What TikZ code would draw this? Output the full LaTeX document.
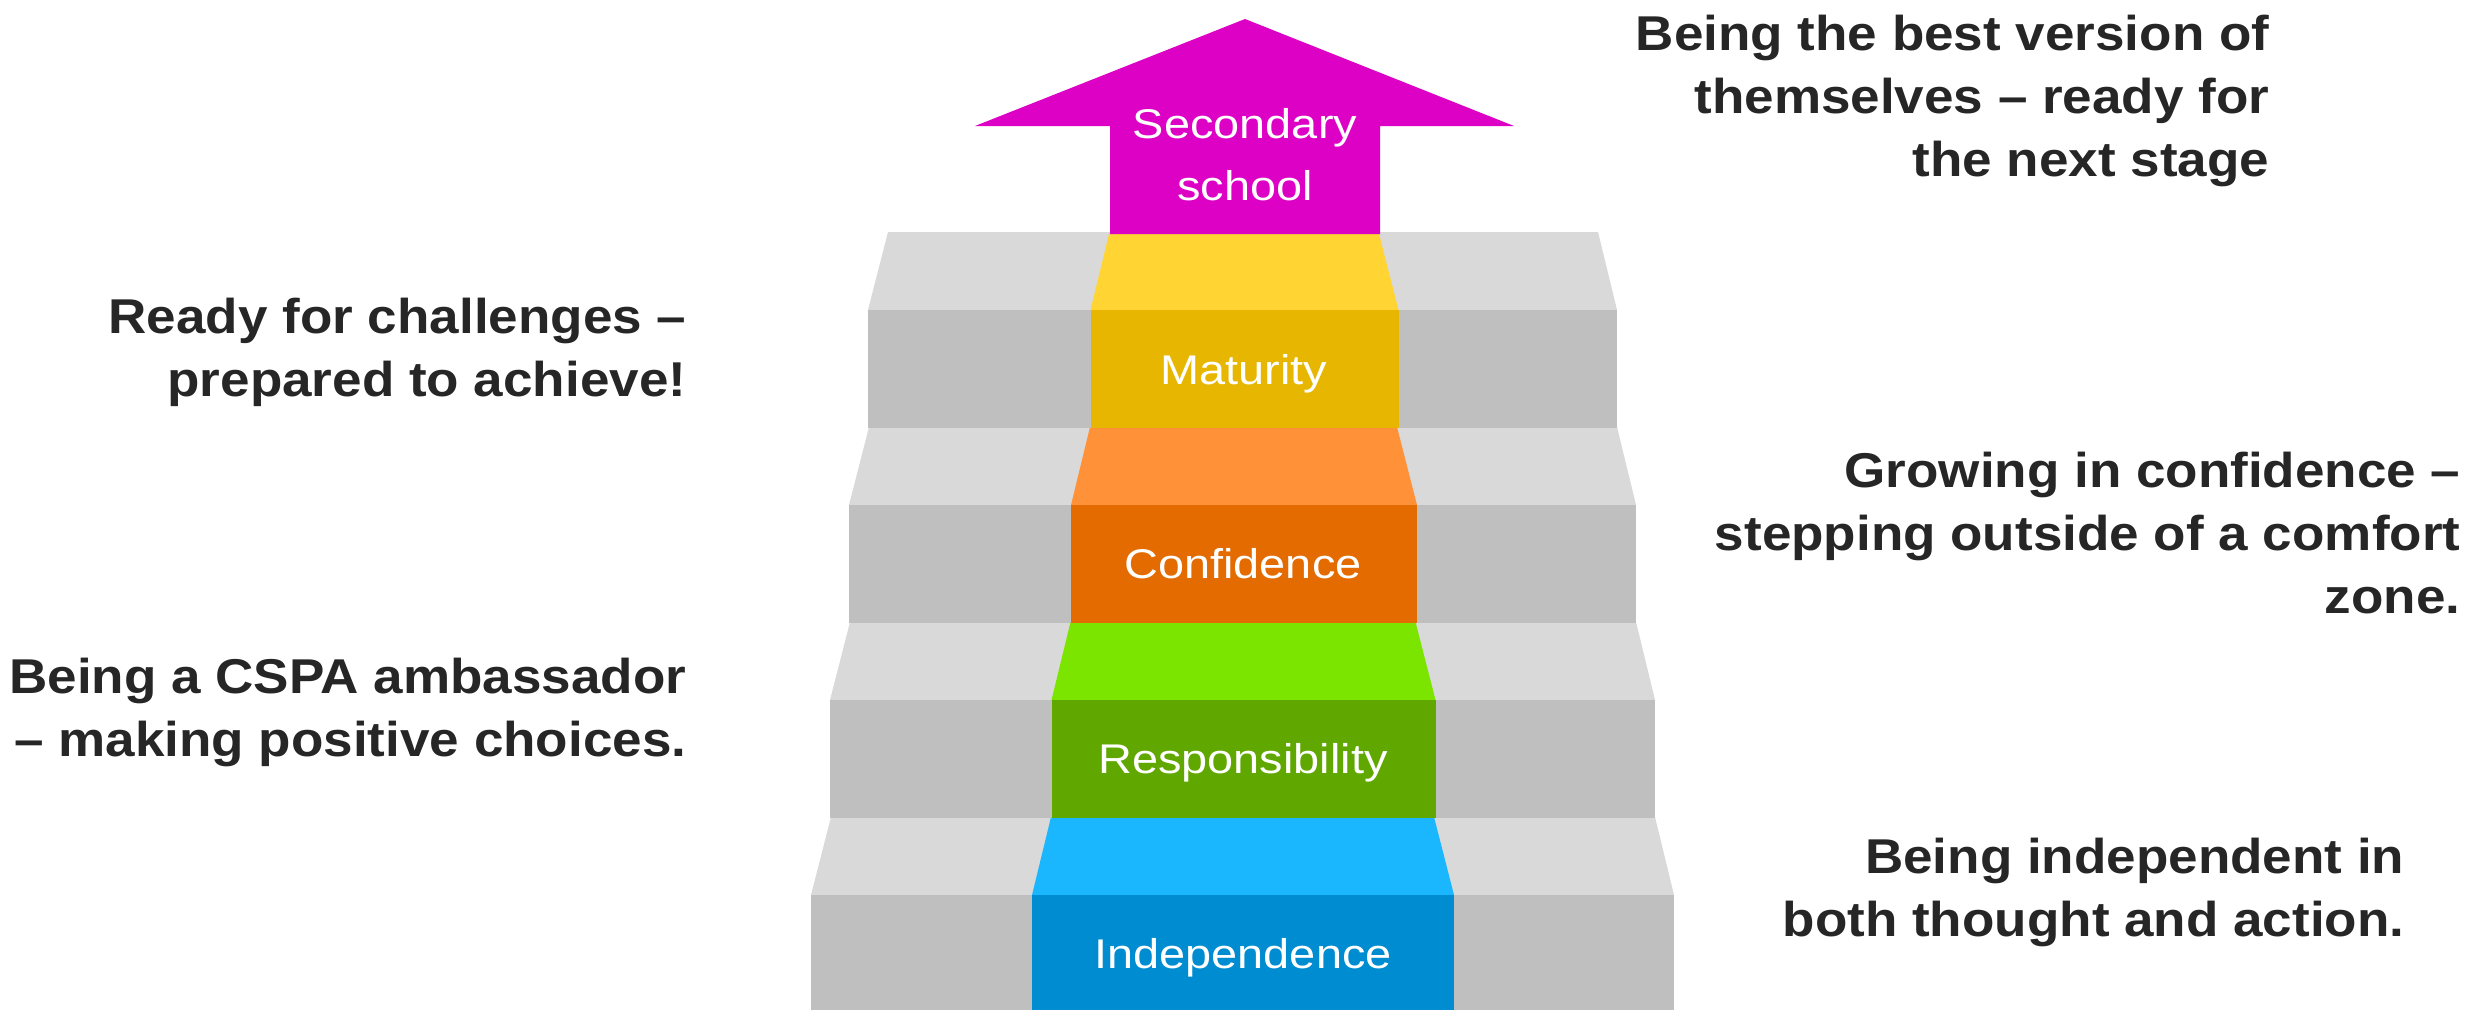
\documentclass[tikz,border=0pt]{standalone}
\usepackage{fontspec}
\newfontfamily\captxt{Liberation Sans}[FakeStretch=1.085]
\newfontfamily\stepfont{Liberation Sans}[FakeStretch=1.13]
\definecolor{txtgray}{HTML}{262626}
\definecolor{treadgray}{HTML}{D9D9D9}
\definecolor{risergray}{HTML}{BFBFBF}
\definecolor{magentaA}{HTML}{DD00C5}
\definecolor{yellowT}{HTML}{FFD433}
\definecolor{yellowR}{HTML}{E6B600}
\definecolor{orangeT}{HTML}{FF9138}
\definecolor{orangeR}{HTML}{E36B00}
\definecolor{greenT}{HTML}{7BE500}
\definecolor{greenR}{HTML}{60A800}
\definecolor{blueT}{HTML}{1AB7FF}
\definecolor{blueR}{HTML}{008CD1}
\tikzset{
  caption/.style={inner sep=0pt, align=right, text=txtgray,
    font=\captxt\bfseries\fontsize{13.9pt}{17.9pt}\selectfont},
  steplabel/.style={inner sep=0pt, align=center, text=white,
    font=\stepfont\fontsize{11.8pt}{17.6pt}\selectfont},
}
\begin{document}
\begin{tikzpicture}[x=0.01cm,y=-0.01cm]
\useasboundingbox (0,0) rectangle (2486,1009);
\fill[white] (0,0) rectangle (2486,1009);
% steps k=0 (bottom) .. 3 (top)
\foreach \k/\ct/\cr in {0/blueT/blueR,1/greenT/greenR,2/orangeT/orangeR,3/yellowT/yellowR}{
  \pgfmathsetmacro{\T}{817-195*\k}
  \pgfmathsetmacro{\M}{\T+78}
  \pgfmathsetmacro{\B}{\T+196}
  \pgfmathsetmacro{\oLt}{831+19*\k}
  \pgfmathsetmacro{\oLb}{811+19*\k}
  \pgfmathsetmacro{\oRt}{1655-19*\k}
  \pgfmathsetmacro{\oRb}{1674-19*\k}
  \pgfmathsetmacro{\cLt}{1051+19.5*\k}
  \pgfmathsetmacro{\cLb}{1032+19.5*\k}
  \pgfmathsetmacro{\cRt}{1434-18.5*\k}
  \pgfmathsetmacro{\cRb}{1454-18.5*\k}
  \fill[treadgray] (\oLt,\T) -- (\oRt,\T) -- (\oRb,\M) -- (\oLb,\M) -- cycle;
  \fill[risergray] (\oLb,\M) rectangle (\oRb,\B);
  \fill[\ct] (\cLt,\T) -- (\cRt,\T) -- (\cRb,\M) -- (\cLb,\M) -- cycle;
  \fill[\cr] (\cLb,\M) rectangle (\cRb,\B);
}
% arrow on top step
\fill[magentaA] (1110,234) -- (1110,126) -- (975,126) -- (1245,19) -- (1514,126) -- (1380,126) -- (1380,234) -- cycle;
% step labels (anchor base = baseline of last line)
\node[steplabel, anchor=base] (secondary) at (1245,200) {Secondary\\school};
\node[steplabel, anchor=base] (maturity) at (1244,384.5) {Maturity};
\node[steplabel, anchor=base] (confidence) at (1243,578.5) {Confidence};
\node[steplabel, anchor=base] (responsibility) at (1243,773.5) {Responsibility};
\node[steplabel, anchor=base] (independence) at (1243,968.5) {Independence};
% captions (anchor base east = baseline of last line)
\node[caption, anchor=base east] (best) at (2270,176) {Being the best version of\\themselves – ready for\\the next stage};
\node[caption, anchor=base east] (ready) at (687,396) {Ready for challenges –\\prepared to achieve!};
\node[caption, anchor=base east] (growing) at (2461,613) {Growing in confidence –\\stepping outside of a comfort\\zone.};
\node[caption, anchor=base east] (cspa) at (687,756) {Being a CSPA ambassador\\– making positive choices.};
\node[caption, anchor=base east] (indep) at (2405,936) {Being independent in\\both thought and action.};
\end{tikzpicture}
\end{document}
